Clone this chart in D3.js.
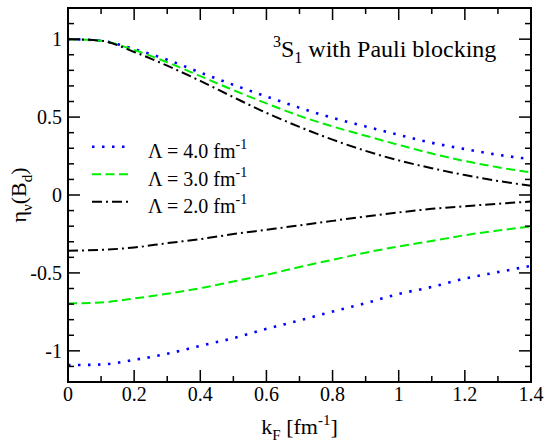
<!DOCTYPE html>
<html>
<head>
<meta charset="utf-8">
<script src="https://cdn.jsdelivr.net/npm/d3@7"></script>
<style>
  html, body { margin: 0; padding: 0; background: #fff; }
</style>
</head>
<body>
<svg id="chart" width="545" height="440"></svg>
<script>
// Fermi momentum grid [fm^-1]
const kF = [0, 0.1, 0.2, 0.3, 0.4, 0.5, 0.6, 0.7, 0.8, 0.9, 1.0, 1.1, 1.2, 1.3, 1.4];

// Upper branch of eta_nu(B_d) for each cutoff
const upper40 = [1.0, 0.99, 0.936, 0.868, 0.786, 0.707, 0.632, 0.56, 0.495, 0.44, 0.386, 0.335, 0.295, 0.258, 0.23];
const upper30 = [1.0, 0.99, 0.93, 0.852, 0.763, 0.673, 0.588, 0.508, 0.44, 0.38, 0.322, 0.266, 0.218, 0.178, 0.145];
const upper20 = [1.0, 0.99, 0.918, 0.83, 0.732, 0.628, 0.527, 0.437, 0.355, 0.283, 0.222, 0.172, 0.128, 0.09, 0.06];

// Lower branch of eta_nu(B_d) for each cutoff
const lower40 = [-1.092, -1.088, -1.058, -1.019, -0.968, -0.919, -0.859, -0.805, -0.748, -0.694, -0.635, -0.59, -0.536, -0.495, -0.455];
const lower30 = [-0.696, -0.69, -0.664, -0.634, -0.598, -0.555, -0.512, -0.462, -0.416, -0.37, -0.33, -0.295, -0.258, -0.228, -0.202];
const lower20 = [-0.358, -0.352, -0.337, -0.309, -0.283, -0.251, -0.223, -0.195, -0.166, -0.138, -0.112, -0.089, -0.072, -0.056, -0.042];

// Cutoff labels
const cutoffs = ["4.0", "3.0", "2.0"];

// Tick values
const xMajor = [0, 0.2, 0.4, 0.6, 0.8, 1.0, 1.2, 1.4];
const xMajorLabels = ["0", "0.2", "0.4", "0.6", "0.8", "1", "1.2", "1.4"];
const yMajor = [-1, -0.5, 0, 0.5, 1];
const yMajorLabels = ["-1", "-0.5", "0", "0.5", "1"];

const FONT = "'Liberation Serif', 'DejaVu Serif', 'Times New Roman', serif";

const svg = d3.select("#chart")
  .attr("font-family", FONT)
  .style("font-family", FONT);
const pLeft = 68, pRight = 531, pTop = 8, pBottom = 382;

const x = d3.scaleLinear().domain([0, 1.4]).range([pLeft, pRight]);
const y = d3.scaleLinear().domain([-1.2, 1.2]).range([pBottom, pTop]);

const styles = [
  { color: "#0000ff", dash: "2.5 7.5", width: 2.6 },
  { color: "#00ee00", dash: "9 4.5", width: 2 },
  { color: "#000000", dash: "10 4 2 4", width: 2 }
];

const line = d3.line()
  .x(d => x(d[0]))
  .y(d => y(d[1]))
  .curve(d3.curveMonotoneX);

const series = [
  [upper40, lower40],
  [upper30, lower30],
  [upper20, lower20]
];

const plot = svg.append("g");
series.forEach((pair, i) => {
  pair.forEach(vals => {
    plot.append("path")
      .datum(kF.map((k, j) => [k, vals[j]]))
      .attr("d", line)
      .attr("fill", "none")
      .attr("stroke", styles[i].color)
      .attr("stroke-width", styles[i].width)
      .attr("stroke-dasharray", styles[i].dash);
  });
});

// Ticks on all four sides, pointing inward
const ticks = svg.append("g").attr("stroke", "#000").attr("stroke-width", 1.5);
const xMinor = d3.range(1, 15, 2).map(i => i / 10);
const yMinor = d3.range(-12, 13).filter(i => i % 5 !== 0).map(i => i / 10);

function xTick(v, len) {
  ticks.append("line").attr("x1", x(v)).attr("x2", x(v)).attr("y1", pBottom).attr("y2", pBottom - len);
  ticks.append("line").attr("x1", x(v)).attr("x2", x(v)).attr("y1", pTop).attr("y2", pTop + len);
}
function yTick(v, len) {
  ticks.append("line").attr("y1", y(v)).attr("y2", y(v)).attr("x1", pLeft).attr("x2", pLeft + len);
  ticks.append("line").attr("y1", y(v)).attr("y2", y(v)).attr("x1", pRight).attr("x2", pRight - len);
}
xMajor.forEach(v => xTick(v, 12));
xMinor.forEach(v => xTick(v, 6));
yMajor.forEach(v => yTick(v, 12));
yMinor.forEach(v => yTick(v, 6));

// Frame
svg.append("rect")
  .attr("x", pLeft).attr("y", pTop)
  .attr("width", pRight - pLeft).attr("height", pBottom - pTop)
  .attr("fill", "none").attr("stroke", "#000").attr("stroke-width", 2);

// Tick labels
svg.append("g").selectAll("text").data(xMajor).join("text")
  .attr("x", d => x(d)).attr("y", 401)
  .attr("text-anchor", "middle").attr("font-size", 20)
  .text((d, i) => xMajorLabels[i]);

svg.append("g").selectAll("text").data(yMajor).join("text")
  .attr("x", 62).attr("y", d => y(d)).attr("dy", "0.34em")
  .attr("text-anchor", "end").attr("font-size", 20)
  .text((d, i) => yMajorLabels[i]);

// Axis titles
const xl = svg.append("text").attr("x", x(0.7)).attr("y", 434)
  .attr("text-anchor", "middle").attr("font-size", 22);
xl.append("tspan").text("k");
xl.append("tspan").attr("font-size", 15).attr("dy", 6).text("F");
xl.append("tspan").attr("dy", -6).text(" [fm");
xl.append("tspan").attr("font-size", 15).attr("dy", -9).text("-1");
xl.append("tspan").attr("dy", 9).text("]");

const yl = svg.append("text")
  .attr("transform", `translate(26,${y(0)}) rotate(-90)`)
  .attr("text-anchor", "middle").attr("font-size", 22);
yl.append("tspan").text("η");
yl.append("tspan").attr("font-size", 15).attr("dy", 6).text("ν");
yl.append("tspan").attr("dy", -6).text("(B");
yl.append("tspan").attr("font-size", 15).attr("dy", 6).text("d");
yl.append("tspan").attr("dy", -6).text(")");

// Panel title
const tt = svg.append("text").attr("x", 273).attr("y", 57).attr("font-size", 24);
tt.append("tspan").attr("font-size", 16).attr("dy", -10).text("3");
tt.append("tspan").attr("dy", 10).text("S");
tt.append("tspan").attr("font-size", 16).attr("dy", 6).text("1");
tt.append("tspan").attr("dy", -6).text(" with Pauli blocking");

// Legend
const legY = [146.7, 174.3, 201.7];
const legText = [158.3, 186, 213.3];
cutoffs.forEach((c, i) => {
  svg.append("line")
    .attr("x1", 92).attr("x2", 128).attr("y1", legY[i]).attr("y2", legY[i])
    .attr("stroke", styles[i].color).attr("stroke-width", styles[i].width)
    .attr("stroke-dasharray", styles[i].dash);
  const t = svg.append("text").attr("x", 148).attr("y", legText[i]).attr("font-size", 20);
  t.append("tspan").text(`Λ = ${c} fm`);
  t.append("tspan").attr("font-size", 14).attr("dy", -9).text("-1");
});
</script>
</body>
</html>
